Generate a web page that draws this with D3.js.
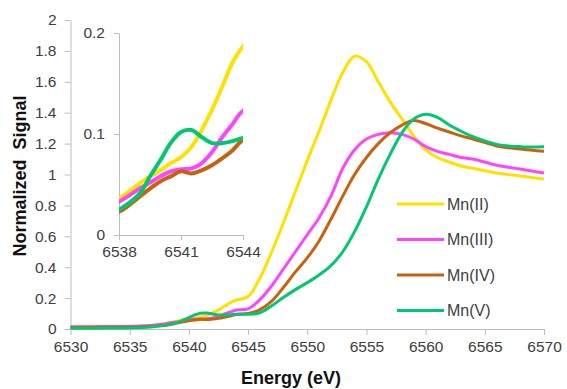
<!DOCTYPE html>
<html>
<head>
<meta charset="utf-8">
<script src="https://cdn.jsdelivr.net/npm/d3@7"></script>
<style>
  body { margin: 0; background: #fff; }
  svg { display: block; font-family: 'Liberation Sans', Arial, sans-serif; }
</style>
</head>
<body>
<svg id="chart" width="567" height="389"></svg>
<script>
// energy grid (eV) shared by all spectra
const energy = [6530, 6533, 6536, 6537, 6538, 6539, 6539.5, 6540, 6540.5, 6541, 6541.5, 6542, 6542.5, 6543, 6543.5, 6544,
  6545, 6546, 6547, 6548, 6549, 6550, 6551, 6552, 6553, 6554, 6555, 6556, 6557, 6558, 6559, 6560, 6561, 6562, 6563, 6564, 6566, 6568, 6570]

const mnII = [0.012, 0.014, 0.018, 0.024, 0.036, 0.051, 0.058, 0.064, 0.071, 0.077, 0.087, 0.104, 0.124, 0.147, 0.171, 0.187,
  0.21, 0.33, 0.5, 0.69, 0.89, 1.09, 1.28, 1.48, 1.66, 1.765, 1.73, 1.6, 1.47, 1.36, 1.25, 1.16, 1.11, 1.08, 1.055, 1.04, 1.01, 0.99, 0.97]
const mnIII = [0.015, 0.016, 0.02, 0.025, 0.033, 0.046, 0.052, 0.058, 0.063, 0.065, 0.066, 0.071, 0.082, 0.097, 0.11, 0.123,
  0.13, 0.19, 0.28, 0.39, 0.5, 0.61, 0.72, 0.86, 1.04, 1.16, 1.23, 1.26, 1.27, 1.26, 1.23, 1.18, 1.15, 1.13, 1.11, 1.1, 1.06, 1.035, 1.01]
const mnIV = [0.01, 0.011, 0.015, 0.018, 0.023, 0.038, 0.046, 0.053, 0.058, 0.063, 0.061, 0.064, 0.069, 0.076, 0.084, 0.094,
  0.1, 0.125, 0.18, 0.27, 0.37, 0.46, 0.57, 0.71, 0.86, 1.0, 1.11, 1.2, 1.27, 1.32, 1.35, 1.33, 1.3, 1.275, 1.25, 1.23, 1.185, 1.165, 1.15]
const mnV = [0.005, 0.006, 0.01, 0.015, 0.025, 0.041, 0.058, 0.074, 0.091, 0.102, 0.104, 0.097, 0.091, 0.091, 0.093, 0.096,
  0.095, 0.105, 0.15, 0.205, 0.255, 0.3, 0.35, 0.41, 0.5, 0.63, 0.79, 0.97, 1.13, 1.27, 1.36, 1.39, 1.37, 1.32, 1.28, 1.245, 1.195, 1.18, 1.18]

const seriesNames = ['Mn(II)', 'Mn(III)', 'Mn(IV)', 'Mn(V)']
const seriesColors = ['#ffe100', '#ff44ff', '#c8620f', '#00c872']

const xTicks = [6530, 6535, 6540, 6545, 6550, 6555, 6560, 6565, 6570]
const yTicks = [0, 0.2, 0.4, 0.6, 0.8, 1, 1.2, 1.4, 1.6, 1.8, 2]
const insetXTicks = [6538, 6541, 6544]
const insetYTicks = [0, 0.1, 0.2]

const series = [mnII, mnIII, mnIV, mnV].map((vals, i) => ({
  name: seriesNames[i],
  color: seriesColors[i],
  points: energy.map((e, j) => [e, vals[j]]),
}))

const axisColor = '#bdbdbd'
const textColor = '#404040'

const svg = d3.select('#chart')

// main scales
const x = d3.scaleLinear().domain([6530, 6570]).range([70.5, 544])
const y = d3.scaleLinear().domain([0, 2]).range([329, 20])

function styleAxis(g, size) {
  g.selectAll('.domain').attr('stroke', axisColor).attr('stroke-width', 1)
  g.selectAll('.tick line').attr('stroke', axisColor)
  g.selectAll('.tick text').attr('fill', textColor).attr('font-size', size)
}

svg.append('g')
  .attr('transform', `translate(0,${y(0)})`)
  .call(d3.axisBottom(x).tickValues(xTicks).tickSize(6).tickSizeOuter(0).tickPadding(6).tickFormat(d3.format('d')))
  .call(g => styleAxis(g, 15.5))

svg.append('g')
  .attr('transform', `translate(${x(6530)},0)`)
  .call(d3.axisLeft(y).tickValues(yTicks).tickSize(6).tickSizeOuter(0).tickPadding(8).tickFormat(d => +d.toFixed(1)))
  .call(g => styleAxis(g, 15.5))

const line = d3.line()
  .x(d => x(d[0]))
  .y(d => y(d[1]))
  .curve(d3.curveCatmullRom.alpha(0.5))

svg.append('g')
  .selectAll('path')
  .data(series)
  .join('path')
  .attr('fill', 'none')
  .attr('stroke', d => d.color)
  .attr('stroke-width', 3)
  .attr('stroke-linejoin', 'round')
  .attr('d', d => line(d.points))

// inset: zoom on the pre-edge
const ix = d3.scaleLinear().domain([6538, 6544]).range([119, 243])
const iy = d3.scaleLinear().domain([0, 0.2]).range([235, 33])

svg.append('clipPath')
  .attr('id', 'insetClip')
  .append('rect')
  .attr('x', ix(6538))
  .attr('y', iy(0.2))
  .attr('width', ix(6544) - ix(6538))
  .attr('height', iy(0) - iy(0.2))

svg.append('rect')
  .attr('x', ix(6538))
  .attr('y', iy(0.2))
  .attr('width', ix(6544) - ix(6538))
  .attr('height', iy(0) - iy(0.2))
  .attr('fill', '#fff')

svg.append('g')
  .attr('transform', `translate(0,${iy(0)})`)
  .call(d3.axisBottom(ix).tickValues(insetXTicks).tickSize(5).tickSizeOuter(0).tickPadding(6).tickFormat(d3.format('d')))
  .call(g => styleAxis(g, 15.5))

svg.append('g')
  .attr('transform', `translate(${ix(6538)},0)`)
  .call(d3.axisLeft(iy).tickValues(insetYTicks).tickSize(5).tickSizeOuter(0).tickPadding(9).tickFormat(d => +d.toFixed(1)))
  .call(g => styleAxis(g, 15.5))

const insetLine = d3.line()
  .x(d => ix(d[0]))
  .y(d => iy(d[1]))
  .curve(d3.curveCatmullRom.alpha(0.5))

svg.append('g')
  .attr('clip-path', 'url(#insetClip)')
  .selectAll('path')
  .data(series)
  .join('path')
  .attr('fill', 'none')
  .attr('stroke', d => d.color)
  .attr('stroke-width', 4)
  .attr('stroke-linejoin', 'round')
  .attr('d', d => insetLine(d.points.filter(p => p[0] >= 6537 && p[0] <= 6545)))

// legend
const legend = svg.append('g')
  .selectAll('g')
  .data(series)
  .join('g')
  .attr('transform', (d, i) => `translate(397,${204 + i * 35.5})`)

legend.append('line')
  .attr('x1', 0)
  .attr('x2', 47)
  .attr('stroke', d => d.color)
  .attr('stroke-width', 3)

legend.append('text')
  .attr('x', 50)
  .attr('dy', '0.35em')
  .attr('font-size', 16)
  .attr('fill', textColor)
  .text(d => d.name)

// axis titles
svg.append('text')
  .attr('x', 291)
  .attr('y', 384)
  .attr('text-anchor', 'middle')
  .attr('font-size', 18)
  .attr('font-weight', 'bold')
  .attr('fill', '#111')
  .text('Energy (eV)')

svg.append('text')
  .attr('transform', 'translate(26,176) rotate(-90)')
  .attr('text-anchor', 'middle')
  .attr('font-size', 18)
  .attr('font-weight', 'bold')
  .attr('fill', '#111')
  .attr('xml:space', 'preserve')
  .style('white-space', 'pre')
  .text('Normalized  Signal')
</script>
</body>
</html>
